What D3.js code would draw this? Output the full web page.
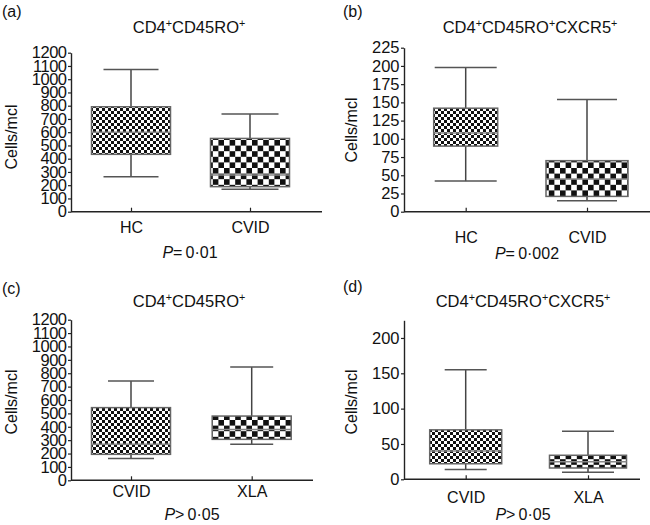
<!DOCTYPE html>
<html>
<head>
<meta charset="utf-8">
<script src="https://cdn.jsdelivr.net/npm/d3@7"></script>
<style>
  body { margin: 0; background: #fff; }
  svg { font-family: "Liberation Sans", Arial, sans-serif; }
</style>
</head>
<body>
<svg id="chart" width="650" height="525"></svg>
<script>
// data (cells/mcl)
var panelLetters = ["(a)", "(b)", "(c)", "(d)"];
var panelTitles = [["CD4", "CD45RO"], ["CD4", "CD45RO", "CXCR5"], ["CD4", "CD45RO"], ["CD4", "CD45RO", "CXCR5"]];
var panelPvalues = [["=", "0·01"], ["=", "0·002"], [">", "0·05"], [">", "0·05"]];
var groupsA = ["HC", "CVID"], groupsB = ["HC", "CVID"], groupsC = ["CVID", "XLA"], groupsD = ["CVID", "XLA"];

var lowA = [264, 169], q1A = [433, 189], medA = [600, 277], q3A = [792, 553], highA = [1074, 737];
var lowB = [42, 15], q1B = [90, 21], medB = [108, 45], q3B = [142, 70], highB = [198, 154];
var lowC = [162, 269], q1C = [194, 306], medC = [270, 380], q3C = [543, 480], highC = [742, 846];
var lowD = [14, 10], q1D = [22, 16], medD = [40, 25], q3D = [70, 34], highD = [155, 68];

var ticksA = d3.range(0, 1201, 100), ticksB = d3.range(0, 226, 25), ticksC = d3.range(0, 1201, 100), ticksD = [0, 50, 100, 150, 200];
var yMaxA = 1200, yMaxB = 225, yMaxC = 1200, yMaxD = 225;

// layout of each panel (pixels)
var panels = [
  { groups: groupsA, low: lowA, q1: q1A, med: medA, q3: q3A, high: highA, ticks: ticksA, ymax: yMaxA,
    axisX: 71, y0: 211.7, y1: 52.7, xEnd: 322, centers: [131, 250], boxW: [79, 79], capW: [55, 57],
    letter: [2, 17], title: [189, 33], ylab: [11, 137], catPad: 10, pval: [190, 258], tickFont: 16.5, tickLS: -0.5 },
  { groups: groupsB, low: lowB, q1: q1B, med: medB, q3: q3B, high: highB, ticks: ticksB, ymax: yMaxB,
    axisX: 404, y0: 211.7, y1: 47.7, xEnd: 650, centers: [465.7, 587], boxW: [64, 82], capW: [62, 60],
    letter: [343, 17], title: [530, 33], ylab: [351, 130], catPad: 20, pval: [527, 259], tickFont: 16.5, tickLS: 0 },
  { groups: groupsC, low: lowC, q1: q1C, med: medC, q3: q3C, high: highC, ticks: ticksC, ymax: yMaxC,
    axisX: 71, y0: 480.3, y1: 319.7, xEnd: 313, centers: [131, 251.7], boxW: [79, 79], capW: [46, 43],
    letter: [2, 294], title: [189, 307], ylab: [11, 402], catPad: 5, pval: [192, 520], tickFont: 16.5, tickLS: -0.5 },
  { groups: groupsD, low: lowD, q1: q1D, med: medD, q3: q3D, high: highD, ticks: ticksD, ymax: yMaxD,
    axisX: 404, y0: 479.3, y1: 320.3, xEnd: 640, centers: [465.7, 588], boxW: [72, 77], capW: [42, 52],
    letter: [343, 292], title: [523, 307], ylab: [351, 402], catPad: 12, pval: [523, 520], tickFont: 16.5, tickLS: 0 }
];
var fills = ["url(#fine)", "url(#coarse)"];

var svg = d3.select("#chart");
var defs = svg.append("defs");

function checker(id, cell) {
  var p = defs.append("pattern")
    .attr("id", id)
    .attr("patternUnits", "userSpaceOnUse")
    .attr("width", cell * 2)
    .attr("height", cell * 2);
  p.append("rect").attr("width", cell * 2).attr("height", cell * 2).attr("fill", "#fff");
  p.append("rect").attr("width", cell).attr("height", cell).attr("fill", "#111");
  p.append("rect").attr("x", cell).attr("y", cell).attr("width", cell).attr("height", cell).attr("fill", "#111");
}
checker("fine", 3);
checker("coarse", 5.6);

function superText(sel, parts) {
  parts.forEach(function (t) {
    sel.append("tspan").text(t);
    sel.append("tspan").attr("baseline-shift", "super").attr("font-size", "65%").text("+");
  });
}

panels.forEach(function (p, i) {
  var g = svg.append("g");

  var y = d3.scaleLinear().domain([0, p.ymax]).range([p.y0, p.y1]);
  var x = d3.scalePoint().domain(p.groups).range(p.centers);

  // y axis
  var yAxis = g.append("g")
    .attr("transform", "translate(" + p.axisX + ",0)")
    .call(d3.axisLeft(y).tickValues(p.ticks).tickSize(3).tickSizeOuter(0).tickPadding(1.5).tickFormat(d3.format("d")));
  yAxis.select(".domain").attr("stroke", "#222").attr("stroke-width", 1.4);
  yAxis.selectAll(".tick line").attr("stroke", "#222").attr("stroke-width", 1.2);
  yAxis.selectAll("text")
    .attr("font-size", p.tickFont)
    .attr("letter-spacing", p.tickLS)
    .attr("fill", "#111")
    .style("font-family", "Liberation Sans, Arial, sans-serif");

  // x axis
  g.append("line")
    .attr("x1", p.axisX).attr("x2", p.xEnd)
    .attr("y1", p.y0).attr("y2", p.y0)
    .attr("stroke", "#222").attr("stroke-width", 1.4);
  var xAxis = g.append("g")
    .attr("transform", "translate(0," + p.y0 + ")")
    .call(d3.axisBottom(x).tickSize(-4).tickSizeOuter(0).tickPadding(p.catPad));
  xAxis.select(".domain").remove();
  xAxis.selectAll(".tick line").attr("stroke", "#222").attr("stroke-width", 1.2);
  xAxis.selectAll("text")
    .attr("font-size", 16)
    .attr("fill", "#111")
    .style("font-family", "Liberation Sans, Arial, sans-serif");

  // boxes
  var rows = p.groups.map(function (name, j) {
    return { name: name, j: j, low: p.low[j], q1: p.q1[j], med: p.med[j], q3: p.q3[j], high: p.high[j] };
  });
  var box = g.selectAll(".box").data(rows).enter().append("g").attr("class", "box");

  box.append("line")
    .attr("x1", function (d) { return x(d.name); })
    .attr("x2", function (d) { return x(d.name); })
    .attr("y1", function (d) { return y(d.low); })
    .attr("y2", function (d) { return y(d.high); })
    .attr("stroke", "#444").attr("stroke-width", 1.5);
  ["low", "high"].forEach(function (k) {
    box.append("line")
      .attr("x1", function (d) { return x(d.name) - p.capW[d.j] / 2; })
      .attr("x2", function (d) { return x(d.name) + p.capW[d.j] / 2; })
      .attr("y1", function (d) { return y(d[k]); })
      .attr("y2", function (d) { return y(d[k]); })
      .attr("stroke", "#555").attr("stroke-width", 1.5);
  });
  box.append("rect")
    .attr("x", function (d) { return x(d.name) - p.boxW[d.j] / 2; })
    .attr("width", function (d) { return p.boxW[d.j]; })
    .attr("y", function (d) { return y(d.q3); })
    .attr("height", function (d) { return y(d.q1) - y(d.q3); })
    .attr("fill", function (d) { return fills[d.j]; })
    .attr("stroke", "#666").attr("stroke-width", 1.5);
  box.append("line")
    .attr("x1", function (d) { return x(d.name) - p.boxW[d.j] / 2; })
    .attr("x2", function (d) { return x(d.name) + p.boxW[d.j] / 2; })
    .attr("y1", function (d) { return y(d.med); })
    .attr("y2", function (d) { return y(d.med); })
    .attr("stroke", "#888").attr("stroke-width", 1.5);

  // texts
  g.append("text")
    .attr("x", p.letter[0]).attr("y", p.letter[1])
    .attr("font-size", 16).attr("fill", "#111")
    .text(panelLetters[i]);

  var title = g.append("text")
    .attr("x", p.title[0]).attr("y", p.title[1])
    .attr("text-anchor", "middle")
    .attr("font-size", 16.5).attr("fill", "#111");
  superText(title, panelTitles[i]);

  g.append("text")
    .attr("transform", "translate(" + p.ylab[0] + "," + p.ylab[1] + ") rotate(-90)")
    .attr("text-anchor", "middle")
    .attr("dy", "0.35em")
    .attr("font-size", 16).attr("fill", "#111")
    .text("Cells/mcl");

  var pv = g.append("text")
    .attr("x", p.pval[0]).attr("y", p.pval[1])
    .attr("text-anchor", "middle")
    .attr("font-size", 16).attr("fill", "#111");
  pv.append("tspan").attr("font-style", "italic").text("P");
  pv.append("tspan").text(panelPvalues[i][0] + "\u2009");
  pv.append("tspan").text(panelPvalues[i][1]);
});
</script>
</body>
</html>
